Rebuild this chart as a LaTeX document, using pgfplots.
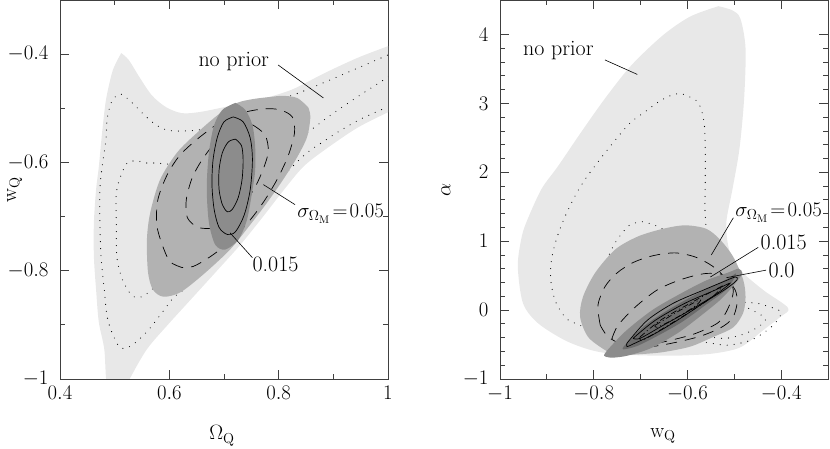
\documentclass[border=0pt]{standalone}
\usepackage{pgfplots}
\pgfplotsset{compat=1.18}
\definecolor{lgray}{gray}{0.91}
\definecolor{mgray}{gray}{0.70}
\definecolor{dgray}{gray}{0.55}
\definecolor{ddgray}{gray}{0.42}
\begin{document}
\begin{tikzpicture}[x=1pt,y=1pt]
\pgfplotsset{
  every axis/.append style={scale only axis, width=328pt, height=379pt, anchor=south west,
    tick align=inside, major tick length=9pt, minor tick length=5pt,
    font=\fontsize{22}{26}\selectfont,
    axis line style={black!75, line width=0.9pt},
    every tick/.style={black!75, line width=0.8pt},
    xticklabel style={yshift=-4pt}, yticklabel style={xshift=-8pt}},
  fa/.style={fill=lgray, draw=none, smooth, tension=0.5},
  fb/.style={fill=mgray, draw=none, smooth, tension=0.5},
  fc/.style={fill=dgray, draw=none, smooth, tension=0.5},
  fd/.style={fill=ddgray, draw=none, smooth, tension=0.5},
  dotl/.style={black, line width=1.1pt, line cap=round, dash pattern=on 0pt off 7pt, smooth, tension=0.5},
  dashl/.style={black, line width=0.7pt, dash pattern=on 11pt off 8pt, smooth, tension=0.5},
  soll/.style={black, line width=0.7pt, smooth, tension=0.5},
  dotdash/.style={black, line width=0.7pt, dash pattern=on 6pt off 3pt on 1pt off 3pt, smooth, tension=0.5},
}
% ---------------- left panel ----------------
\begin{axis}[at={(60pt,70pt)},
  xmin=0.4, xmax=1, ymin=-1, ymax=-0.3,
  xtick={0.4,0.6,0.8,1}, minor xtick={0.5,0.7,0.9},
  ytick={-1,-0.8,-0.6,-0.4}, minor ytick={-0.9,-0.7,-0.5},
  xlabel={$\Omega_{\mathrm{Q}}$}, ylabel={$\mathrm{w}_{\mathrm{Q}}$},
  xlabel style={at={(axis description cs:0.494,-0.15)}, anchor=center},
  ylabel style={at={(axis description cs:-0.138,0.5)}, anchor=center}]
\addplot[fa] coordinates {(0.512,-0.398) (0.526,-0.411) (0.545,-0.442) (0.568,-0.476) (0.594,-0.498) (0.623,-0.509) (0.655,-0.507) (0.700,-0.498) (0.761,-0.485) (0.823,-0.466) (0.884,-0.435) (0.944,-0.407) (1.001,-0.385) (1.014,-0.382) (1.014,-0.503) (1.001,-0.507) (0.944,-0.536) (0.884,-0.577) (0.845,-0.608) (0.810,-0.650) (0.770,-0.702) (0.730,-0.752) (0.689,-0.798) (0.644,-0.848) (0.598,-0.899) (0.559,-0.945) (0.528,-0.999) (0.519,-1.022) (0.488,-1.022) (0.481,-0.945) (0.471,-0.895) (0.466,-0.835) (0.462,-0.774) (0.462,-0.711) (0.466,-0.650) (0.471,-0.608) (0.477,-0.545) (0.484,-0.485) (0.495,-0.435) (0.503,-0.415) (0.512,-0.398)};
% no prior contours (dotted)
\addplot[dotl] coordinates {(0.999,-0.402) (0.944,-0.426) (0.884,-0.452) (0.825,-0.476) (0.748,-0.499) (0.675,-0.536) (0.609,-0.542) (0.581,-0.534) (0.558,-0.516) (0.532,-0.490) (0.512,-0.474) (0.499,-0.481) (0.492,-0.494) (0.486,-0.522) (0.484,-0.558) (0.477,-0.608) (0.473,-0.650) (0.473,-0.711) (0.475,-0.774) (0.481,-0.835) (0.486,-0.884) (0.495,-0.914) (0.508,-0.940) (0.521,-0.943) (0.539,-0.932) (0.563,-0.908) (0.587,-0.877) (0.609,-0.848) (0.638,-0.822) (0.823,-0.610) (0.884,-0.560) (0.944,-0.523) (0.999,-0.498)};
\addplot[dotl] coordinates {(1.001,-0.442) (0.944,-0.479) (0.896,-0.512) (0.852,-0.545) (0.803,-0.577) (0.656,-0.604) (0.572,-0.601) (0.558,-0.601) (0.539,-0.597) (0.523,-0.601) (0.512,-0.623) (0.503,-0.656) (0.503,-0.711) (0.504,-0.774) (0.514,-0.816) (0.532,-0.846) (0.550,-0.848) (0.572,-0.831) (0.601,-0.798)};
% sigma = 0.05
\addplot[fb] coordinates {(0.854,-0.498) (0.834,-0.481) (0.808,-0.477) (0.785,-0.479) (0.753,-0.483) (0.724,-0.490) (0.693,-0.509) (0.651,-0.545) (0.614,-0.582) (0.583,-0.632) (0.565,-0.693) (0.559,-0.743) (0.561,-0.803) (0.570,-0.835) (0.589,-0.848) (0.620,-0.840) (0.662,-0.807) (0.711,-0.761) (0.748,-0.715) (0.779,-0.674) (0.808,-0.632) (0.834,-0.590) (0.852,-0.553) (0.858,-0.516) (0.854,-0.498)};
\addplot[dashl] coordinates {(0.623,-0.794) (0.601,-0.783) (0.587,-0.752) (0.577,-0.715) (0.579,-0.669) (0.596,-0.623) (0.620,-0.586) (0.656,-0.553) (0.699,-0.522) (0.739,-0.507) (0.775,-0.501) (0.803,-0.503) (0.825,-0.516) (0.829,-0.545) (0.818,-0.586) (0.799,-0.628) (0.775,-0.669) (0.748,-0.706) (0.711,-0.746) (0.675,-0.774) (0.644,-0.792) (0.623,-0.794)};
\addplot[dashl] coordinates {(0.753,-0.531) (0.775,-0.549) (0.781,-0.580) (0.770,-0.617) (0.752,-0.654) (0.721,-0.697) (0.684,-0.720) (0.653,-0.720) (0.633,-0.702) (0.631,-0.669) (0.642,-0.628) (0.662,-0.592) (0.689,-0.558) (0.721,-0.536) (0.753,-0.531)};
% sigma = 0.015
\addplot[fc] coordinates {(0.721,-0.490) (0.739,-0.503) (0.752,-0.531) (0.757,-0.571) (0.757,-0.614) (0.753,-0.645) (0.742,-0.706) (0.726,-0.743) (0.702,-0.761) (0.684,-0.752) (0.673,-0.715) (0.669,-0.669) (0.669,-0.627) (0.673,-0.577) (0.682,-0.531) (0.697,-0.503) (0.721,-0.490)};
\addplot[soll] coordinates {(0.717,-0.516) (0.735,-0.525) (0.748,-0.555) (0.752,-0.595) (0.748,-0.650) (0.737,-0.697) (0.721,-0.728) (0.706,-0.733) (0.691,-0.720) (0.682,-0.687) (0.678,-0.641) (0.680,-0.595) (0.688,-0.553) (0.700,-0.525) (0.717,-0.516)};
\addplot[soll] coordinates {(0.721,-0.557) (0.732,-0.569) (0.735,-0.595) (0.733,-0.632) (0.726,-0.665) (0.715,-0.687) (0.706,-0.691) (0.697,-0.678) (0.691,-0.650) (0.691,-0.614) (0.697,-0.582) (0.708,-0.562) (0.721,-0.557)};
% annotations
\draw[black, line width=0.6pt] (axis cs:0.799,-0.420) -- (axis cs:0.882,-0.481);
\draw[black, line width=0.6pt] (axis cs:0.772,-0.641) -- (axis cs:0.830,-0.678);
\draw[black, line width=0.6pt] (axis cs:0.711,-0.730) -- (axis cs:0.752,-0.776);
\node[anchor=base west, inner sep=0pt] at (axis cs:0.653,-0.422) {no prior};
\node[anchor=base west, inner sep=0pt] at (axis cs:0.834,-0.702) {$\sigma_{\Omega_{\mathrm{M}}}\!=\!0.05$};
\node[anchor=base west, inner sep=0pt] at (axis cs:0.752,-0.801) {0.015};
\end{axis}
% ---------------- right panel ----------------
\begin{axis}[at={(500pt,70pt)},
  xmin=-1, xmax=-0.3, ymin=-1, ymax=4.5,
  xtick={-1,-0.8,-0.6,-0.4}, minor xtick={-0.9,-0.7,-0.5},
  ytick={-1,0,1,2,3,4}, minor y tick num=4,
  xlabel={$\mathrm{w}_{\mathrm{Q}}$}, ylabel={$\alpha$},
  xlabel style={at={(axis description cs:0.497,-0.15)}, anchor=center},
  ylabel style={at={(axis description cs:-0.165,0.5)}, anchor=center}]
\addplot[fa] coordinates {(-0.534,4.41) (-0.504,4.35) (-0.487,4.23) (-0.476,3.80) (-0.479,3.07) (-0.489,2.34) (-0.504,1.75) (-0.517,1.27) (-0.511,0.88) (-0.487,0.58) (-0.438,0.29) (-0.385,0.03) (-0.402,-0.10) (-0.438,-0.29) (-0.487,-0.54) (-0.545,-0.63) (-0.615,-0.66) (-0.679,-0.66) (-0.754,-0.64) (-0.806,-0.58) (-0.861,-0.44) (-0.919,-0.19) (-0.951,0.10) (-0.962,0.63) (-0.955,1.02) (-0.944,1.27) (-0.912,1.75) (-0.876,2.09) (-0.827,2.58) (-0.776,3.07) (-0.720,3.55) (-0.652,3.99) (-0.594,4.26) (-0.534,4.41)};
% dotted
\addplot[dotl] coordinates {(-0.786,-0.34) (-0.840,-0.19) (-0.859,-0.12) (-0.880,0.10) (-0.891,0.39) (-0.891,0.69) (-0.880,1.02) (-0.861,1.36) (-0.838,1.68) (-0.818,1.90) (-0.791,2.15) (-0.769,2.34) (-0.744,2.55) (-0.720,2.73) (-0.690,2.88) (-0.662,3.02) (-0.637,3.11) (-0.613,3.14) (-0.581,3.04) (-0.571,2.92) (-0.564,2.70) (-0.562,2.34) (-0.562,1.85) (-0.562,1.36) (-0.551,0.88) (-0.498,0.18) (-0.451,0.10) (-0.417,0.03) (-0.400,-0.03) (-0.408,-0.15) (-0.429,-0.29) (-0.466,-0.44) (-0.515,-0.51) (-0.560,-0.47) (-0.615,-0.44)};
\addplot[dotl] coordinates {(-0.594,0.88) (-0.654,1.18) (-0.688,1.27) (-0.701,1.28) (-0.722,1.24) (-0.733,1.17) (-0.754,0.98) (-0.769,0.77) (-0.778,0.58)};
\addplot[dotl] coordinates {(-0.510,0.15) (-0.462,0.00) (-0.434,-0.12) (-0.444,-0.22) (-0.476,-0.34) (-0.519,-0.41) (-0.562,-0.38)};
% sigma = 0.05
\addplot[fb] coordinates {(-0.752,-0.66) (-0.776,-0.58) (-0.812,-0.39) (-0.829,-0.10) (-0.823,0.19) (-0.797,0.54) (-0.754,0.88) (-0.705,1.07) (-0.652,1.18) (-0.605,1.23) (-0.560,1.18) (-0.530,1.02) (-0.502,0.77) (-0.481,0.44) (-0.476,0.19) (-0.481,-0.04) (-0.502,-0.25) (-0.545,-0.39) (-0.594,-0.53) (-0.652,-0.61) (-0.701,-0.64) (-0.752,-0.66)};
\addplot[dashl] coordinates {(-0.786,-0.22) (-0.791,0.07) (-0.776,0.34) (-0.750,0.54) (-0.716,0.69) (-0.673,0.79) (-0.626,0.83) (-0.583,0.77) (-0.547,0.64) (-0.519,0.47) (-0.498,0.29) (-0.494,0.10) (-0.504,-0.12) (-0.530,-0.26) (-0.573,-0.38) (-0.626,-0.47) (-0.679,-0.53) (-0.733,-0.51) (-0.769,-0.39) (-0.786,-0.22)};
\addplot[dashl] coordinates {(-0.761,-0.41) (-0.748,-0.22) (-0.712,0.04) (-0.665,0.29) (-0.615,0.44) (-0.562,0.53) (-0.519,0.50) (-0.502,0.29) (-0.513,0.03) (-0.534,-0.18) (-0.583,-0.34) (-0.637,-0.44) (-0.690,-0.51) (-0.739,-0.51) (-0.761,-0.41)};
% sigma = 0.015
\addplot[fc] coordinates {(-0.768,-0.56) (-0.731,-0.30) (-0.675,0.00) (-0.617,0.23) (-0.560,0.43) (-0.511,0.55) (-0.491,0.60) (-0.483,0.53) (-0.500,0.37) (-0.528,0.16) (-0.571,-0.08) (-0.620,-0.33) (-0.677,-0.55) (-0.727,-0.66) (-0.761,-0.69) (-0.778,-0.66) (-0.768,-0.56)};
% sigma = 0
\addplot[fd] coordinates {(-0.735,-0.52) (-0.692,-0.23) (-0.637,0.02) (-0.573,0.26) (-0.515,0.45) (-0.496,0.53) (-0.515,0.31) (-0.560,0.08) (-0.611,-0.17) (-0.660,-0.36) (-0.707,-0.52) (-0.737,-0.57) (-0.735,-0.52)};
\addplot[soll] coordinates {(-0.729,-0.48) (-0.686,-0.15) (-0.630,0.10) (-0.566,0.29) (-0.524,0.41) (-0.498,0.48) (-0.494,0.44) (-0.515,0.32) (-0.562,0.12) (-0.615,-0.12) (-0.669,-0.34) (-0.712,-0.48) (-0.729,-0.53) (-0.729,-0.48)};
\addplot[soll] coordinates {(-0.716,-0.41) (-0.669,-0.15) (-0.605,0.10) (-0.541,0.29) (-0.509,0.39) (-0.541,0.22) (-0.594,0.00) (-0.654,-0.23) (-0.701,-0.41) (-0.716,-0.41)};
\addplot[dotdash] coordinates {(-0.701,-0.39) (-0.658,-0.15) (-0.594,0.10) (-0.534,0.32) (-0.526,0.34) (-0.547,0.19) (-0.598,-0.04) (-0.658,-0.29) (-0.697,-0.44) (-0.701,-0.39)};
\addplot[dotdash] coordinates {(-0.669,-0.22) (-0.615,0.00) (-0.573,0.15) (-0.583,0.06) (-0.626,-0.12) (-0.665,-0.25) (-0.669,-0.22)};
% annotations
\draw[black, line width=0.6pt] (axis cs:-0.776,3.63) -- (axis cs:-0.707,3.42);
\draw[black, line width=0.6pt] (axis cs:-0.502,1.34) -- (axis cs:-0.549,0.80);
\draw[black, line width=0.6pt] (axis cs:-0.449,0.91) -- (axis cs:-0.551,0.48);
\draw[black, line width=0.6pt] (axis cs:-0.432,0.58) -- (axis cs:-0.517,0.47);
\node[anchor=base west, inner sep=0pt] at (axis cs:-0.951,3.69) {no prior};
\node[anchor=base west, inner sep=0pt] at (axis cs:-0.498,1.36) {$\sigma_{\Omega_{\mathrm{M}}}\!=\!0.05$};
\node[anchor=base west, inner sep=0pt] at (axis cs:-0.444,0.88) {0.015};
\node[anchor=base west, inner sep=0pt] at (axis cs:-0.427,0.48) {0.0};
\end{axis}
\pgfresetboundingbox
\path (0pt,0pt) rectangle (830pt,449pt);
\end{tikzpicture}
\end{document}
